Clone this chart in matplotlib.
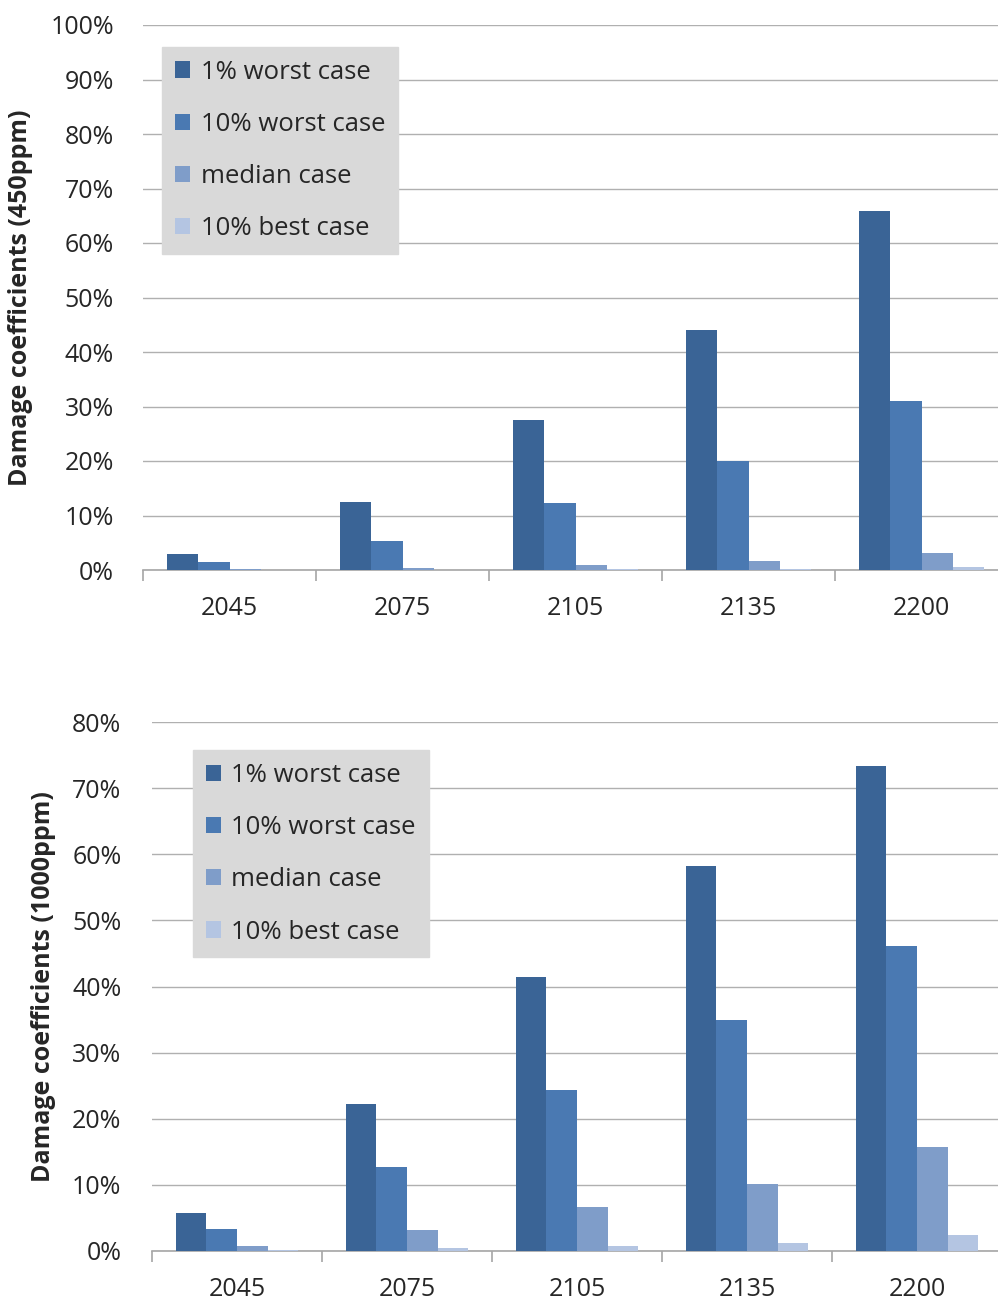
import numpy as np
import matplotlib.pyplot as plt
from matplotlib.ticker import PercentFormatter

years = ["2045", "2075", "2105", "2135", "2200"]
series = ["1% worst case", "10% worst case", "median case", "10% best case"]
colors = ["#3A6496", "#4A79B2", "#7F9DC9", "#B4C5E2"]

# 450ppm scenario (percent)
worst1_450 = [3.0, 12.5, 27.5, 44.0, 65.8]
worst10_450 = [1.5, 5.3, 12.3, 20.0, 31.1]
median_450 = [0.1, 0.3, 1.0, 1.7, 3.2]
best10_450 = [0.0, 0.0, 0.1, 0.1, 0.6]

# 1000ppm scenario (percent)
worst1_1000 = [5.8, 22.3, 41.4, 58.2, 73.4]
worst10_1000 = [3.3, 12.7, 24.4, 34.9, 46.1]
median_1000 = [0.8, 3.2, 6.7, 10.2, 15.8]
best10_1000 = [0.2, 0.4, 0.7, 1.2, 2.4]

plt.rcParams['font.family'] = ['Open Sans', 'DejaVu Sans']

fig = plt.figure(figsize=(9.98, 13.02), dpi=100)

def draw(ax, data, ymax, ylabel, leg_anchor, ylab_x, ypad):
    x = np.arange(len(years))
    w = 0.18
    for i, (vals, c, name) in enumerate(zip(data, colors, series)):
        ax.bar(x + (i - 1.5) * w, vals, w, color=c, label=name, zorder=3)
    ax.set_xlim(-0.5, len(years) - 0.5)
    ax.set_ylim(0, ymax)
    ax.set_yticks(np.arange(0, ymax + 1, 10))
    ax.yaxis.set_major_formatter(PercentFormatter(decimals=0))
    ax.grid(axis='y', color='#B0B0B0', linewidth=1, zorder=0)
    for s in ['top', 'right', 'left']:
        ax.spines[s].set_visible(False)
    ax.spines['bottom'].set_color('#A6A6A6')
    ax.spines['bottom'].set_linewidth(1.2)
    ax.set_xticks(x)
    ax.set_xticklabels(years, fontsize=18, color='#262626')
    ax.set_xticks(np.arange(-0.5, len(years), 1), minor=True)
    ax.tick_params(axis='x', which='major', length=0, pad=19)
    ax.tick_params(axis='x', which='minor', length=8, width=1.2, color='#A6A6A6')
    ax.tick_params(axis='y', length=0, labelsize=18, labelcolor='#262626', pad=ypad)
    ax.set_ylabel(ylabel, fontsize=18, fontweight='bold', color='#262626')
    ax.yaxis.set_label_coords(ylab_x, 0.5)
    leg = ax.legend(loc='upper left', bbox_to_anchor=leg_anchor, frameon=True,
                    fancybox=False, fontsize=18.5, handlelength=0.6, handleheight=0.6,
                    labelspacing=1.06, borderpad=0.5, handletextpad=0.4,
                    borderaxespad=0)
    leg.get_frame().set_facecolor('#D9D9D9')
    leg.get_frame().set_edgecolor('#D9D9D9')
    leg.get_frame().set_alpha(1)
    for t in leg.get_texts():
        t.set_color('#262626')

ax1 = fig.add_axes([143 / 998, 1 - 570 / 1302, 865 / 998, 545 / 1302])
draw(ax1, [worst1_450, worst10_450, median_450, best10_450], 100,
     "Damage coefficients (450ppm)", (0.022, 0.96), -0.127, 21)

ax2 = fig.add_axes([152 / 998, 1 - 1251 / 1302, 850 / 998, 529 / 1302])
draw(ax2, [worst1_1000, worst10_1000, median_1000, best10_1000], 80,
     "Damage coefficients (1000ppm)", (0.048, 0.947), -0.113, 22)

fig.savefig("out.png", dpi=100)
